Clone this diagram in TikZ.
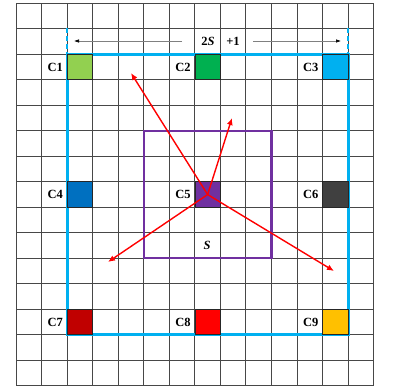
\documentclass[tikz,border=0pt]{standalone}
\usepackage{fontspec}
\setmainfont{Liberation Serif}
\usetikzlibrary{arrows.meta,positioning}
\definecolor{cA}{HTML}{92D050}
\definecolor{cB}{HTML}{00B050}
\definecolor{cC}{HTML}{00B0F0}
\definecolor{cD}{HTML}{0070C0}
\definecolor{cE}{HTML}{7030A0}
\definecolor{cF}{HTML}{404040}
\definecolor{cG}{HTML}{C00000}
\definecolor{cH}{HTML}{FF0000}
\definecolor{cI}{HTML}{FFC000}
\definecolor{boxblue}{HTML}{00B0F0}
\definecolor{boxpurple}{HTML}{7030A0}
\begin{document}
\begin{tikzpicture}[x=1pt,y=-1pt,
  gridline/.style={draw=black!72,line width=1pt},
  cellbox/.style={draw=black!85,line width=0.7pt,minimum width=25.55pt,minimum height=25.5pt,inner sep=0pt,outer sep=0pt,anchor=north west},
  lab/.style={font=\fontsize{12.5}{14}\selectfont\bfseries,inner sep=0pt},
  outerbox/.style={draw=boxblue,line width=2.8pt,inner sep=0pt,outer sep=0pt,anchor=north west,minimum width=281.05pt,minimum height=280.5pt},
  innerbox/.style={draw=boxpurple,line width=2.4pt,inner sep=0pt,outer sep=0pt,anchor=north west,minimum width=127.75pt,minimum height=127.5pt},
  redarrow/.style={draw=red,line width=1.4pt,-{Latex[length=7pt,width=6pt]}},
  dimline/.style={draw=boxblue,line width=1.8pt,dash pattern=on 5pt off 3pt},
  dimarrow/.style={draw=black!50,line width=0.6pt,-{Latex[length=5pt,width=3.5pt,fill=black,color=black]}}]
\useasboundingbox (0,0) rectangle (397,387);
\fill[white] (0,0) rectangle (397,387);
% grid
\foreach \i in {0,...,14} \draw[gridline] ({16+25.55*\i},3.3) -- ({16+25.55*\i},385.8);
\foreach \j in {0,...,15} \draw[gridline] (16,{3.3+25.5*\j}) -- (373.7,{3.3+25.5*\j});
% outer and inner squares
\node[outerbox] (outer) at (67.1,54.3) {};
\node[innerbox] (inner) at (143.75,130.8) {};
% coloured cells and labels
\foreach \n/\i/\j/\c in {1/2/2/cA,2/7/2/cB,3/12/2/cC,4/2/7/cD,5/7/7/cE,6/12/7/cF,7/2/12/cG,8/7/12/cH,9/12/12/cI}{
  \node[cellbox,fill=\c] (c\n) at ({16+25.55*\i},{3.3+25.5*\j}) {};
  \node[lab,left=4pt of c\n] (l\n) {C\n};
}
% dimension marks
\coordinate (da) at (67.1,28.5);
\coordinate (db) at (67.1,53);
\coordinate (dc) at (348.15,28.5);
\coordinate (dd) at (348.15,53);
\draw[dimline] (da) -- (db);
\draw[dimline] (dc) -- (dd);
\node[lab] (twoS) at (208,41.5) {2\textit{S}};
\node[lab] (plus) at (233,41.5) {+1};
\coordinate (ls) at (182,41);
\coordinate (le) at (74,41);
\coordinate (rs) at (253,41);
\coordinate (re) at (341,41);
\draw[dimarrow] (ls) -- (le);
\draw[dimarrow] (rs) -- (re);
% S label
\node[lab] (slab) at (207,245) {\textit{S}};
% red arrows
\coordinate (t1) at (131,73);
\coordinate (t2) at (232,118);
\coordinate (t3) at (108,262);
\coordinate (t4) at (334,271);
\foreach \t in {t1,t2,t3,t4} \draw[redarrow] (c5.center) -- (\t);
\end{tikzpicture}
\end{document}
